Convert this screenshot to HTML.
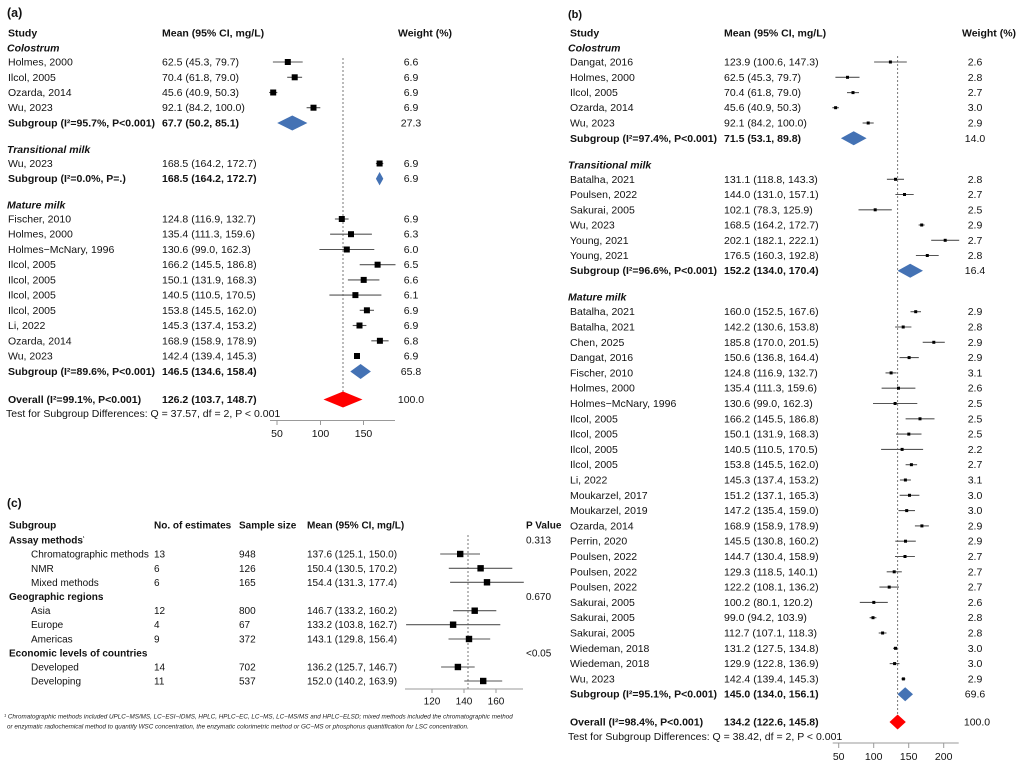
<!DOCTYPE html>
<html><head><meta charset="utf-8"><style>
html,body{margin:0;padding:0;background:#fff}
svg{display:block;font-family:"Liberation Sans",Arial,sans-serif}
text{font-size:10.5px;fill:#111}
.c text{font-size:10px}
.b{font-weight:bold}
.bi{font-weight:bold;font-style:italic}
.m text{text-anchor:middle}
.ci{stroke:#555;stroke-width:1.1}
.ax{stroke:#999;stroke-width:1}
.ref{stroke:#777;stroke-width:1;stroke-dasharray:2,2}
.c text.fn{font-size:6.3px;font-style:italic;fill:#222}
</style></head><body>
<svg width="1024" height="772" viewBox="0 0 1024 772" xmlns="http://www.w3.org/2000/svg">
<rect width="1024" height="772" fill="#fff"/>

<!-- ============ PANEL A ============ -->
<text x="7" y="17" class="b" style="font-size:12.5px">(a)</text>
<text x="8" y="36.5" class="b">Study</text>
<text x="162" y="36.5" class="b">Mean (95% CI, mg/L)</text>
<text x="398" y="36.5" class="b">Weight (%)</text>
<text x="7" y="51.5" class="bi">Colostrum</text>
<text x="8" y="65.5">Holmes, 2000</text><text x="162" y="65.5">62.5 (45.3, 79.7)</text>
<text x="8" y="80.8">Ilcol, 2005</text><text x="162" y="80.8">70.4 (61.8, 79.0)</text>
<text x="8" y="96">Ozarda, 2014</text><text x="162" y="96">45.6 (40.9, 50.3)</text>
<text x="8" y="111.2">Wu, 2023</text><text x="162" y="111.2">92.1 (84.2, 100.0)</text>
<text x="8" y="126.5" class="b">Subgroup (I²=95.7%, P&lt;0.001)</text><text x="162" y="126.5" class="b">67.7 (50.2, 85.1)</text>
<text x="7" y="153" class="bi">Transitional milk</text>
<text x="8" y="167">Wu, 2023</text><text x="162" y="167">168.5 (164.2, 172.7)</text>
<text x="8" y="182.2" class="b">Subgroup (I²=0.0%, P=.)</text><text x="162" y="182.2" class="b">168.5 (164.2, 172.7)</text>
<text x="7" y="208.5" class="bi">Mature milk</text>
<text x="8" y="222.5">Fischer, 2010</text><text x="162" y="222.5">124.8 (116.9, 132.7)</text>
<text x="8" y="237.7">Holmes, 2000</text><text x="162" y="237.7">135.4 (111.3, 159.6)</text>
<text x="8" y="253">Holmes−McNary, 1996</text><text x="162" y="253">130.6 (99.0, 162.3)</text>
<text x="8" y="268.2">Ilcol, 2005</text><text x="162" y="268.2">166.2 (145.5, 186.8)</text>
<text x="8" y="283.4">Ilcol, 2005</text><text x="162" y="283.4">150.1 (131.9, 168.3)</text>
<text x="8" y="298.6">Ilcol, 2005</text><text x="162" y="298.6">140.5 (110.5, 170.5)</text>
<text x="8" y="313.8">Ilcol, 2005</text><text x="162" y="313.8">153.8 (145.5, 162.0)</text>
<text x="8" y="329">Li, 2022</text><text x="162" y="329">145.3 (137.4, 153.2)</text>
<text x="8" y="344.3">Ozarda, 2014</text><text x="162" y="344.3">168.9 (158.9, 178.9)</text>
<text x="8" y="359.5">Wu, 2023</text><text x="162" y="359.5">142.4 (139.4, 145.3)</text>
<text x="8" y="375" class="b">Subgroup (I²=89.6%, P&lt;0.001)</text><text x="162" y="375" class="b">146.5 (134.6, 158.4)</text>
<text x="8" y="403" class="b">Overall (I²=99.1%, P&lt;0.001)</text><text x="162" y="403" class="b">126.2 (103.7, 148.7)</text>
<text x="6" y="417">Test for Subgroup Differences: Q = 37.57, df = 2, P &lt; 0.001</text>
<g class="m">
<text x="411" y="65.5">6.6</text><text x="411" y="80.8">6.9</text><text x="411" y="96">6.9</text><text x="411" y="111.2">6.9</text><text x="411" y="126.5">27.3</text>
<text x="411" y="167">6.9</text><text x="411" y="182.2">6.9</text>
<text x="411" y="222.5">6.9</text><text x="411" y="237.7">6.3</text><text x="411" y="253">6.0</text><text x="411" y="268.2">6.5</text><text x="411" y="283.4">6.6</text><text x="411" y="298.6">6.1</text><text x="411" y="313.8">6.9</text><text x="411" y="329">6.9</text><text x="411" y="344.3">6.8</text><text x="411" y="359.5">6.9</text><text x="411" y="375">65.8</text>
<text x="411" y="403">100.0</text>
<text x="277" y="437">50</text><text x="320.5" y="437">100</text><text x="363.5" y="437">150</text>
</g>
<line class="ref" x1="343" y1="58" x2="343" y2="398"/>
<line class="ax" x1="270" y1="420.5" x2="395" y2="420.5"/>
<line class="ax" x1="277" y1="420.5" x2="277" y2="425"/><line class="ax" x1="320.5" y1="420.5" x2="320.5" y2="425"/><line class="ax" x1="363.5" y1="420.5" x2="363.5" y2="425"/>
<g class="ci">
<line x1="272.9" y1="62" x2="302.7" y2="62"/><line x1="287.2" y1="77.3" x2="302.1" y2="77.3"/><line x1="269.1" y1="92.5" x2="277.3" y2="92.5"/><line x1="306.6" y1="107.7" x2="320.3" y2="107.7"/>
<line x1="375.9" y1="163.5" x2="383.3" y2="163.5"/>
<line x1="334.9" y1="219" x2="348.6" y2="219"/><line x1="330.1" y1="234.2" x2="371.9" y2="234.2"/><line x1="319.4" y1="249.5" x2="374.3" y2="249.5"/><line x1="359.7" y1="264.7" x2="395.5" y2="264.7"/><line x1="347.9" y1="279.9" x2="379.4" y2="279.9"/><line x1="329.4" y1="295.1" x2="381.4" y2="295.1"/><line x1="359.7" y1="310.3" x2="374" y2="310.3"/><line x1="352.7" y1="325.5" x2="366.4" y2="325.5"/><line x1="371.3" y1="340.8" x2="388.6" y2="340.8"/><line x1="354.4" y1="356" x2="359.5" y2="356"/>
</g>
<g fill="#000">
<rect x="284.8" y="59" width="6" height="6"/><rect x="291.7" y="74.3" width="6" height="6"/><rect x="270.2" y="89.5" width="6" height="6"/><rect x="310.5" y="104.7" width="6" height="6"/>
<rect x="376.6" y="160.5" width="6" height="6"/>
<rect x="338.8" y="216" width="6" height="6"/><rect x="348" y="231.2" width="6" height="6"/><rect x="343.8" y="246.5" width="6" height="6"/><rect x="374.6" y="261.7" width="6" height="6"/><rect x="360.7" y="276.9" width="6" height="6"/><rect x="352.4" y="292.1" width="6" height="6"/><rect x="363.9" y="307.3" width="6" height="6"/><rect x="356.5" y="322.5" width="6" height="6"/><rect x="376.9" y="337.8" width="6" height="6"/><rect x="354" y="353" width="6" height="6"/>
</g>
<g fill="#4472b4">
<polygon points="277.2,123 292.3,115.5 307.4,123 292.3,130.5"/>
<polygon points="375.9,178.7 379.6,172 383.3,178.7 379.6,185.4"/>
<polygon points="350.3,371.5 360.6,364 370.9,371.5 360.6,379"/>
</g>
<polygon fill="#ff0000" points="323.5,399.5 343,391.5 362.5,399.5 343,407.5"/>

<!-- ============ PANEL B ============ -->
<text x="568" y="18" class="b" style="font-size:11px">(b)</text>
<text x="570" y="36.5" class="b">Study</text>
<text x="724" y="36.5" class="b">Mean (95% CI, mg/L)</text>
<text x="962" y="36.5" class="b">Weight (%)</text>
<text x="568" y="51.5" class="bi">Colostrum</text>
<text x="570" y="65.5">Dangat, 2016</text><text x="724" y="65.5">123.9 (100.6, 147.3)</text>
<text x="570" y="80.8">Holmes, 2000</text><text x="724" y="80.8">62.5 (45.3, 79.7)</text>
<text x="570" y="96.1">Ilcol, 2005</text><text x="724" y="96.1">70.4 (61.8, 79.0)</text>
<text x="570" y="111.2">Ozarda, 2014</text><text x="724" y="111.2">45.6 (40.9, 50.3)</text>
<text x="570" y="126.5">Wu, 2023</text><text x="724" y="126.5">92.1 (84.2, 100.0)</text>
<text x="570" y="141.8" class="b">Subgroup (I²=97.4%, P&lt;0.001)</text><text x="724" y="141.8" class="b">71.5 (53.1, 89.8)</text>
<text x="568" y="168.5" class="bi">Transitional milk</text>
<text x="570" y="182.8">Batalha, 2021</text><text x="724" y="182.8">131.1 (118.8, 143.3)</text>
<text x="570" y="198">Poulsen, 2022</text><text x="724" y="198">144.0 (131.0, 157.1)</text>
<text x="570" y="213.3">Sakurai, 2005</text><text x="724" y="213.3">102.1 (78.3, 125.9)</text>
<text x="570" y="228.5">Wu, 2023</text><text x="724" y="228.5">168.5 (164.2, 172.7)</text>
<text x="570" y="243.8">Young, 2021</text><text x="724" y="243.8">202.1 (182.1, 222.1)</text>
<text x="570" y="259">Young, 2021</text><text x="724" y="259">176.5 (160.3, 192.8)</text>
<text x="570" y="274.2" class="b">Subgroup (I²=96.6%, P&lt;0.001)</text><text x="724" y="274.2" class="b">152.2 (134.0, 170.4)</text>
<text x="568" y="300.5" class="bi">Mature milk</text>
<text x="570" y="315.2">Batalha, 2021</text><text x="724" y="315.2">160.0 (152.5, 167.6)</text>
<text x="570" y="330.5">Batalha, 2021</text><text x="724" y="330.5">142.2 (130.6, 153.8)</text>
<text x="570" y="345.8">Chen, 2025</text><text x="724" y="345.8">185.8 (170.0, 201.5)</text>
<text x="570" y="361.1">Dangat, 2016</text><text x="724" y="361.1">150.6 (136.8, 164.4)</text>
<text x="570" y="376.4">Fischer, 2010</text><text x="724" y="376.4">124.8 (116.9, 132.7)</text>
<text x="570" y="391.7">Holmes, 2000</text><text x="724" y="391.7">135.4 (111.3, 159.6)</text>
<text x="570" y="407">Holmes−McNary, 1996</text><text x="724" y="407">130.6 (99.0, 162.3)</text>
<text x="570" y="422.3">Ilcol, 2005</text><text x="724" y="422.3">166.2 (145.5, 186.8)</text>
<text x="570" y="437.6">Ilcol, 2005</text><text x="724" y="437.6">150.1 (131.9, 168.3)</text>
<text x="570" y="452.9">Ilcol, 2005</text><text x="724" y="452.9">140.5 (110.5, 170.5)</text>
<text x="570" y="468.2">Ilcol, 2005</text><text x="724" y="468.2">153.8 (145.5, 162.0)</text>
<text x="570" y="483.5">Li, 2022</text><text x="724" y="483.5">145.3 (137.4, 153.2)</text>
<text x="570" y="498.8">Moukarzel, 2017</text><text x="724" y="498.8">151.2 (137.1, 165.3)</text>
<text x="570" y="514.1">Moukarzel, 2019</text><text x="724" y="514.1">147.2 (135.4, 159.0)</text>
<text x="570" y="529.4">Ozarda, 2014</text><text x="724" y="529.4">168.9 (158.9, 178.9)</text>
<text x="570" y="544.7">Perrin, 2020</text><text x="724" y="544.7">145.5 (130.8, 160.2)</text>
<text x="570" y="560">Poulsen, 2022</text><text x="724" y="560">144.7 (130.4, 158.9)</text>
<text x="570" y="575.3">Poulsen, 2022</text><text x="724" y="575.3">129.3 (118.5, 140.1)</text>
<text x="570" y="590.6">Poulsen, 2022</text><text x="724" y="590.6">122.2 (108.1, 136.2)</text>
<text x="570" y="605.9">Sakurai, 2005</text><text x="724" y="605.9">100.2 (80.1, 120.2)</text>
<text x="570" y="621.2">Sakurai, 2005</text><text x="724" y="621.2">99.0 (94.2, 103.9)</text>
<text x="570" y="636.5">Sakurai, 2005</text><text x="724" y="636.5">112.7 (107.1, 118.3)</text>
<text x="570" y="651.8">Wiedeman, 2018</text><text x="724" y="651.8">131.2 (127.5, 134.8)</text>
<text x="570" y="667.1">Wiedeman, 2018</text><text x="724" y="667.1">129.9 (122.8, 136.9)</text>
<text x="570" y="682.4">Wu, 2023</text><text x="724" y="682.4">142.4 (139.4, 145.3)</text>
<text x="570" y="697.7" class="b">Subgroup (I²=95.1%, P&lt;0.001)</text><text x="724" y="697.7" class="b">145.0 (134.0, 156.1)</text>
<text x="570" y="725.5" class="b">Overall (I²=98.4%, P&lt;0.001)</text><text x="724" y="725.5" class="b">134.2 (122.6, 145.8)</text>
<text x="568" y="740">Test for Subgroup Differences: Q = 38.42, df = 2, P &lt; 0.001</text>
<g class="m">
<text x="975" y="65.5">2.6</text><text x="975" y="80.8">2.8</text><text x="975" y="96.1">2.7</text><text x="975" y="111.2">3.0</text><text x="975" y="126.5">2.9</text><text x="975" y="141.8">14.0</text>
<text x="975" y="182.8">2.8</text><text x="975" y="198">2.7</text><text x="975" y="213.3">2.5</text><text x="975" y="228.5">2.9</text><text x="975" y="243.8">2.7</text><text x="975" y="259">2.8</text><text x="975" y="274.2">16.4</text>
<text x="975" y="315.2">2.9</text><text x="975" y="330.5">2.8</text><text x="975" y="345.8">2.9</text><text x="975" y="361.1">2.9</text><text x="975" y="376.4">3.1</text><text x="975" y="391.7">2.6</text><text x="975" y="407">2.5</text><text x="975" y="422.3">2.5</text><text x="975" y="437.6">2.5</text><text x="975" y="452.9">2.2</text><text x="975" y="468.2">2.7</text><text x="975" y="483.5">3.1</text><text x="975" y="498.8">3.0</text><text x="975" y="514.1">3.0</text><text x="975" y="529.4">2.9</text><text x="975" y="544.7">2.9</text><text x="975" y="560">2.7</text><text x="975" y="575.3">2.7</text><text x="975" y="590.6">2.7</text><text x="975" y="605.9">2.6</text><text x="975" y="621.2">2.8</text><text x="975" y="636.5">2.8</text><text x="975" y="651.8">3.0</text><text x="975" y="667.1">3.0</text><text x="975" y="682.4">2.9</text><text x="975" y="697.7">69.6</text>
<text x="977" y="725.5">100.0</text>
<text x="838.7" y="760">50</text><text x="873.7" y="760">100</text><text x="908.7" y="760">150</text><text x="943.7" y="760">200</text>
</g>
<line class="ref" x1="897.6" y1="56" x2="897.6" y2="720"/>
<line class="ax" x1="832.7" y1="743" x2="958.7" y2="743"/>
<line class="ax" x1="838.7" y1="743" x2="838.7" y2="748"/><line class="ax" x1="873.7" y1="743" x2="873.7" y2="748"/><line class="ax" x1="908.7" y1="743" x2="908.7" y2="748"/><line class="ax" x1="943.7" y1="743" x2="943.7" y2="748"/>
<g class="ci">
<line x1="874.1" y1="62" x2="906.8" y2="62"/><line x1="835.4" y1="77.3" x2="859.5" y2="77.3"/><line x1="847" y1="92.6" x2="859" y2="92.6"/><line x1="832.3" y1="107.7" x2="838.9" y2="107.7"/><line x1="862.6" y1="123" x2="873.7" y2="123"/>
<line x1="886.9" y1="179.3" x2="904" y2="179.3"/><line x1="895.4" y1="194.5" x2="913.7" y2="194.5"/><line x1="858.5" y1="209.8" x2="891.8" y2="209.8"/><line x1="918.6" y1="225" x2="924.6" y2="225"/><line x1="931.2" y1="240.3" x2="959.2" y2="240.3"/><line x1="915.9" y1="255.5" x2="938.7" y2="255.5"/>
<line x1="910.5" y1="311.7" x2="921" y2="311.7"/><line x1="895.1" y1="327" x2="911.4" y2="327"/><line x1="922.7" y1="342.3" x2="944.8" y2="342.3"/><line x1="899.5" y1="357.6" x2="918.8" y2="357.6"/><line x1="885.5" y1="372.9" x2="896.6" y2="372.9"/><line x1="881.6" y1="388.2" x2="915.4" y2="388.2"/><line x1="873" y1="403.5" x2="917.3" y2="403.5"/><line x1="905.6" y1="418.8" x2="934.5" y2="418.8"/><line x1="896" y1="434.1" x2="921.5" y2="434.1"/><line x1="881.1" y1="449.4" x2="923.1" y2="449.4"/><line x1="905.6" y1="464.7" x2="917.1" y2="464.7"/><line x1="899.9" y1="480" x2="910.9" y2="480"/><line x1="899.7" y1="495.3" x2="919.4" y2="495.3"/><line x1="898.5" y1="510.6" x2="915" y2="510.6"/><line x1="914.9" y1="525.9" x2="928.9" y2="525.9"/><line x1="895.3" y1="541.2" x2="915.8" y2="541.2"/><line x1="895" y1="556.5" x2="914.9" y2="556.5"/><line x1="886.7" y1="571.8" x2="901.8" y2="571.8"/><line x1="879.4" y1="587.1" x2="899" y2="587.1"/><line x1="859.8" y1="602.4" x2="887.8" y2="602.4"/><line x1="869.6" y1="617.7" x2="876.4" y2="617.7"/><line x1="878.7" y1="633" x2="886.5" y2="633"/><line x1="893" y1="648.3" x2="898.1" y2="648.3"/><line x1="889.7" y1="663.6" x2="899.5" y2="663.6"/><line x1="901.3" y1="678.9" x2="905.4" y2="678.9"/>
</g>
<g fill="#000">
<rect x="888.9" y="60.5" width="3" height="3"/><rect x="846" y="75.8" width="3" height="3"/><rect x="851.5" y="91.1" width="3" height="3"/><rect x="834.1" y="106.2" width="3" height="3"/><rect x="866.7" y="121.5" width="3" height="3"/>
<rect x="894" y="177.8" width="3" height="3"/><rect x="903" y="193" width="3" height="3"/><rect x="873.7" y="208.3" width="3" height="3"/><rect x="920.2" y="223.5" width="3" height="3"/><rect x="943.7" y="238.8" width="3" height="3"/><rect x="925.8" y="254" width="3" height="3"/>
<rect x="914.2" y="310.2" width="3" height="3"/><rect x="901.7" y="325.5" width="3" height="3"/><rect x="932.3" y="340.8" width="3" height="3"/><rect x="907.6" y="356.1" width="3" height="3"/><rect x="889.6" y="371.4" width="3" height="3"/><rect x="897" y="386.7" width="3" height="3"/><rect x="893.6" y="402" width="3" height="3"/><rect x="918.5" y="417.3" width="3" height="3"/><rect x="907.3" y="432.6" width="3" height="3"/><rect x="900.6" y="447.9" width="3" height="3"/><rect x="909.9" y="463.2" width="3" height="3"/><rect x="903.9" y="478.5" width="3" height="3"/><rect x="908" y="493.8" width="3" height="3"/><rect x="905.2" y="509.1" width="3" height="3"/><rect x="920.4" y="524.4" width="3" height="3"/><rect x="904" y="539.7" width="3" height="3"/><rect x="903.5" y="555" width="3" height="3"/><rect x="892.7" y="570.3" width="3" height="3"/><rect x="887.7" y="585.6" width="3" height="3"/><rect x="872.3" y="600.9" width="3" height="3"/><rect x="871.5" y="616.2" width="3" height="3"/><rect x="881.1" y="631.5" width="3" height="3"/><rect x="894" y="646.8" width="3" height="3"/><rect x="893.1" y="662.1" width="3" height="3"/><rect x="901.9" y="677.4" width="3" height="3"/>
</g>
<g fill="#4472b4">
<polygon points="840.9,138.3 853.7,131.3 866.6,138.3 853.7,145.3"/>
<polygon points="897.5,270.7 910.2,263.7 923,270.7 910.2,277.7"/>
<polygon points="897.5,694.2 905.2,687.2 913,694.2 905.2,701.2"/>
</g>
<polygon fill="#ff0000" points="889.5,722 897.6,714.5 905.8,722 897.6,729.5"/>

<!-- ============ PANEL C ============ -->
<g class="c">
<text x="7" y="507" class="b" style="font-size:12px">(c)</text>
<text x="9" y="528.5" class="b">Subgroup</text>
<text x="154" y="528.5" class="b">No. of estimates</text>
<text x="239" y="528.5" class="b">Sample size</text>
<text x="307" y="528.5" class="b">Mean (95% CI, mg/L)</text>
<text x="526" y="528.5" class="b">P Value</text>
<text x="9" y="543.5" class="b">Assay methods<tspan style="font-size:5px" dy="-4">¹</tspan></text>
<text x="526" y="543.5">0.313</text>
<text x="31" y="557.5">Chromatographic methods</text><text x="154" y="557.5">13</text><text x="239" y="557.5">948</text><text x="307" y="557.5">137.6 (125.1, 150.0)</text>
<text x="31" y="571.8">NMR</text><text x="154" y="571.8">6</text><text x="239" y="571.8">126</text><text x="307" y="571.8">150.4 (130.5, 170.2)</text>
<text x="31" y="585.8">Mixed methods</text><text x="154" y="585.8">6</text><text x="239" y="585.8">165</text><text x="307" y="585.8">154.4 (131.3, 177.4)</text>
<text x="9" y="600.2" class="b">Geographic regions</text>
<text x="526" y="600.2">0.670</text>
<text x="31" y="614.2">Asia</text><text x="154" y="614.2">12</text><text x="239" y="614.2">800</text><text x="307" y="614.2">146.7 (133.2, 160.2)</text>
<text x="31" y="628.2">Europe</text><text x="154" y="628.2">4</text><text x="239" y="628.2">67</text><text x="307" y="628.2">133.2 (103.8, 162.7)</text>
<text x="31" y="642.5">Americas</text><text x="154" y="642.5">9</text><text x="239" y="642.5">372</text><text x="307" y="642.5">143.1 (129.8, 156.4)</text>
<text x="9" y="656.5" class="b">Economic levels of countries</text>
<text x="526" y="656.5">&lt;0.05</text>
<text x="31" y="670.5">Developed</text><text x="154" y="670.5">14</text><text x="239" y="670.5">702</text><text x="307" y="670.5">136.2 (125.7, 146.7)</text>
<text x="31" y="684.5">Developing</text><text x="154" y="684.5">11</text><text x="239" y="684.5">537</text><text x="307" y="684.5">152.0 (140.2, 163.9)</text>
<g class="m">
<text x="432" y="704.5">120</text><text x="464" y="704.5">140</text><text x="496" y="704.5">160</text>
</g>
<text x="4" y="718.5" class="fn">¹ Chromatographic methods included UPLC−MS/MS, LC−ESI−IDMS, HPLC, HPLC−EC, LC−MS, LC−MS/MS and HPLC−ELSD; mixed methods included the chromatographic method</text>
<text x="7" y="728.5" class="fn">or enzymatic radiochemical method to quantify WSC concentration, the enzymatic colorimetric method or GC−MS or phosphorus quantification for LSC concentration.</text>
</g>
<line class="ref" x1="468" y1="535" x2="468" y2="689"/>
<line class="ax" x1="405" y1="689" x2="523" y2="689"/>
<line class="ax" x1="432" y1="689" x2="432" y2="693"/><line class="ax" x1="464" y1="689" x2="464" y2="693"/><line class="ax" x1="496" y1="689" x2="496" y2="693"/>
<g class="ci">
<line x1="440.2" y1="554" x2="480" y2="554"/><line x1="448.8" y1="568.3" x2="512.3" y2="568.3"/><line x1="450.1" y1="582.3" x2="523.8" y2="582.3"/>
<line x1="453.1" y1="610.7" x2="496.3" y2="610.7"/><line x1="406.1" y1="624.7" x2="500.3" y2="624.7"/><line x1="448.5" y1="639" x2="490.2" y2="639"/>
<line x1="441.1" y1="667" x2="474.7" y2="667"/><line x1="464.3" y1="681" x2="502.2" y2="681"/>
</g>
<g fill="#000">
<rect x="457" y="550.8" width="6.4" height="6.4"/><rect x="477.4" y="565.1" width="6.4" height="6.4"/><rect x="483.8" y="579.1" width="6.4" height="6.4"/>
<rect x="471.5" y="607.5" width="6.4" height="6.4"/><rect x="449.9" y="621.5" width="6.4" height="6.4"/><rect x="465.8" y="635.8" width="6.4" height="6.4"/>
<rect x="454.7" y="663.8" width="6.4" height="6.4"/><rect x="480" y="677.8" width="6.4" height="6.4"/>
</g>
</svg>
</body></html>
